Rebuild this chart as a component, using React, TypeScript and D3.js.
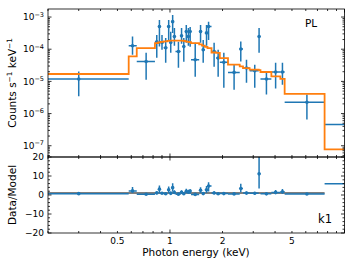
import * as d3 from "d3"

// spectral bins (keV)
const binEdges = [
  0.2, 0.58, 0.645, 0.82, 0.855, 0.885, 0.92, 0.965, 0.995, 1.022, 1.05, 1.075,
  1.15, 1.185, 1.22, 1.255, 1.29, 1.32, 1.47, 1.525, 1.585, 1.64, 1.73, 1.84,
  1.93, 2.15, 2.51, 2.62, 2.86, 3.225, 3.3, 3.81, 4.29, 4.54, 7.69, 14,
]
const energy = [
  0.3, 0.61, 0.73, 0.84, 0.87, 0.9, 0.945, 0.983, 1.01, 1.036, 1.06, 1.118,
  1.165, 1.2, 1.24, 1.275, 1.305, 1.395, 1.497, 1.55, 1.62, 1.664, 1.79, 1.888,
  2.035, 2.33, 2.545, 2.744, 3.06, 3.24, 3.57, 4.03, 4.41, 6.09, 10.5,
]
const rate = [
  1.19e-5, 1.28e-4, 4.17e-5, 1.7e-4, 5.05e-4, 1.61e-4, 1.11e-4, 5.05e-4, 1.61e-4, 7.2e-4,
  2.48e-4, 8.5e-5, 2.6e-4, 1.21e-4, 3.53e-4, 2.48e-4, 3.53e-4, 4.7e-5, 3.53e-4, 9.6e-5,
  3.22e-4, 5.05e-4, 8.5e-5, 5.3e-5, 3.9e-5, 1.9e-5, 1.01e-4, 2.6e-5, 2.15e-5, 2.48e-4,
  1.19e-5, 1.96e-5, 1.96e-5, 2.24e-6, 4.6e-7,
]
const rateHi = [
  2.04e-5, 2.48e-4, 7.7e-5, 2.79e-4, 8.13e-4, 2.79e-4, 2.25e-4, 8.13e-4, 3.46e-4, 1.16e-3,
  4.6e-4, 1.7e-4, 4.6e-4, 2.25e-4, 5.7e-4, 4.6e-4, 4.94e-4, 1.58e-4, 5.7e-4, 1.95e-4,
  5.7e-4, 7.2e-4, 1.58e-4, 9.6e-5, 7.7e-5, 3.3e-5, 1.73e-4, 4.7e-5, 3.3e-5, 4.6e-4,
  2.04e-5, 3.8e-5, 3.8e-5, 3.9e-6, 7e-7,
]
const rateLo = [
  3.44e-6, 6.7e-5, 1.13e-5, 5.4e-5, 1.21e-4, 9.6e-5, 3.8e-5, 1.95e-4, 7.7e-5, 3.22e-4,
  1.28e-4, 2.66e-5, 1.47e-4, 4.08e-5, 1.58e-4, 1.28e-4, 1.19e-4, 1.4e-5, 1.58e-4, 3.8e-5,
  1.28e-4, 1.95e-4, 2.86e-5, 1.4e-5, 6.4e-6, 5.5e-6, 4.17e-5, 9.1e-6, 6.4e-6, 7.7e-5,
  3.9e-6, 5.96e-6, 7.9e-6, 6.5e-7, 2.5e-7,
]
// power-law model, one value per bin
const model = [
  1.7e-5, 5.95e-5, 1.08e-4, 1.55e-4, 1.64e-4, 1.7e-4, 1.76e-4, 1.82e-4, 1.85e-4, 1.86e-4,
  1.86e-4, 1.86e-4, 1.85e-4, 1.82e-4, 1.76e-4, 1.7e-4, 1.66e-4, 1.55e-4, 1.42e-4, 1.3e-4,
  1.19e-4, 1.08e-4, 7.9e-5, 7.7e-5, 5.3e-5, 3.3e-5, 2.92e-5, 2.6e-5, 2.31e-5, 2.23e-5,
  1.96e-5, 1.43e-5, 1.19e-5, 4.08e-6, 7.7e-8,
]

const xTickLabels = [0.5, 1, 2, 5]
const yDecades = [-3, -4, -5, -6, -7]
const ratioTicks = [-20, -10, 0, 10, 20]

const W = 353
const H = 265
const left = 48
const right = 344.5
const top = 9
const mid = 157
const bottom = 233
const blue = "#1f77b4"
const orange = "#ff7f0e"
const font = "DejaVu Sans, sans-serif"

export default function App() {
  const x = d3.scaleLog().domain([0.2, 10]).range([left, right])
  const y = d3.scaleLog().domain([Math.pow(10, -7.35), Math.pow(10, -2.75)]).range([mid, top])
  const yr = d3.scaleLinear().domain([-20, 20]).range([bottom, mid])

  const n = energy.length
  const stepPts: [number, number][] = model.map((m, i) => [binEdges[i], m])
  stepPts.push([binEdges[n], model[n - 1]])
  const step = d3
    .line<[number, number]>()
    .x((d) => x(d[0]))
    .y((d) => y(d[1]))
    .curve(d3.curveStepAfter)

  const xTicks = x.ticks().filter((t) => t >= 0.2 && t <= 10)
  const yTicks = y.ticks()
  const yrMinor = d3.range(-20, 21, 2)

  const isMajorX = (t: number) => Math.abs(Math.log10(t) - Math.round(Math.log10(t))) < 1e-6

  const xTickMarks = (y0: number, y1: number) =>
    xTicks.map((t, i) => {
      const len = isMajorX(t) ? 3.5 : 2
      return (
        <g key={i}>
          <line x1={x(t)} x2={x(t)} y1={y0} y2={y0 - len} stroke="#000" strokeWidth={0.8} />
          <line x1={x(t)} x2={x(t)} y1={y1} y2={y1 + len} stroke="#000" strokeWidth={0.8} />
        </g>
      )
    })

  return (
    <svg width={W} height={H} style={{ position: "absolute", left: 0, top: 0, background: "#fff" }} fontFamily={font}>
      <defs>
        <clipPath id="upper">
          <rect x={left} y={top} width={right - left} height={mid - top} />
        </clipPath>
        <clipPath id="lower">
          <rect x={left} y={mid} width={right - left} height={bottom - mid} />
        </clipPath>
      </defs>

      {/* upper panel: spectrum */}
      <g clipPath="url(#upper)">
        {energy.map((e, i) => (
          <g key={i} stroke={blue} strokeWidth={1.5}>
            <line x1={x(binEdges[i])} x2={x(binEdges[i + 1])} y1={y(rate[i])} y2={y(rate[i])} />
            <line x1={x(e)} x2={x(e)} y1={y(rateHi[i])} y2={y(rateLo[i])} />
            <circle cx={x(e)} cy={y(rate[i])} r={1.8} fill={blue} stroke="none" />
          </g>
        ))}
        <path d={step(stepPts) ?? ""} fill="none" stroke={orange} strokeWidth={1.8} />
      </g>

      {/* lower panel: ratio */}
      <g clipPath="url(#lower)">
        <line x1={x(binEdges[0])} x2={x(binEdges[n - 1])} y1={yr(1)} y2={yr(1)} stroke="#7f7f7f" strokeWidth={2} />
        {energy.map((e, i) => {
          const r = rate[i] / model[i]
          const rh = rateHi[i] / model[i]
          const rl = rateLo[i] / model[i]
          return (
            <g key={i} stroke={blue} strokeWidth={1.5}>
              <line x1={x(binEdges[i])} x2={x(binEdges[i + 1])} y1={yr(r)} y2={yr(r)} />
              <line x1={x(e)} x2={x(e)} y1={yr(rh)} y2={yr(rl)} />
              <circle cx={x(e)} cy={yr(r)} r={1.8} fill={blue} stroke="none" />
            </g>
          )
        })}
      </g>

      {/* ticks */}
      {xTickMarks(mid, top)}
      {xTickMarks(bottom, mid)}
      {yTicks.map((t, i) => {
        const major = Math.abs(Math.log10(t) - Math.round(Math.log10(t))) < 1e-6
        const len = major ? 3.5 : 2
        return (
          <g key={i} stroke="#000" strokeWidth={0.8}>
            <line x1={left} x2={left + len} y1={y(t)} y2={y(t)} />
            <line x1={right} x2={right - len} y1={y(t)} y2={y(t)} />
          </g>
        )
      })}
      {yrMinor.map((t, i) => {
        const len = t % 10 === 0 ? 3.5 : 2
        return (
          <g key={i} stroke="#000" strokeWidth={0.8}>
            <line x1={left} x2={left + len} y1={yr(t)} y2={yr(t)} />
            <line x1={right} x2={right - len} y1={yr(t)} y2={yr(t)} />
          </g>
        )
      })}

      {/* frames */}
      <rect x={left} y={top} width={right - left} height={mid - top} fill="none" stroke="#000" strokeWidth={0.8} />
      <rect x={left} y={mid} width={right - left} height={bottom - mid} fill="none" stroke="#000" strokeWidth={0.8} />

      {/* tick labels */}
      {yDecades.map((p) => (
        <text key={p} x={44} y={y(Math.pow(10, p)) + 3.2} textAnchor="end" fontSize={9}>
          10<tspan dy={-3.5} fontSize={6.5}>{"\u2212" + Math.abs(p)}</tspan>
        </text>
      ))}
      {ratioTicks.map((t) => (
        <text key={t} x={44} y={yr(t) + 3.2} textAnchor="end" fontSize={9}>
          {t < 0 ? "\u2212" + Math.abs(t) : String(t)}
        </text>
      ))}
      {xTickLabels.map((t) => (
        <text key={t} x={x(t)} y={244} textAnchor="middle" fontSize={9}>
          {String(t)}
        </text>
      ))}

      {/* axis labels */}
      <text x={196} y={256} textAnchor="middle" fontSize={10.5}>
        Photon energy (keV)
      </text>
      <text transform={`translate(16,${(top + mid) / 2}) rotate(-90)`} textAnchor="middle" fontSize={10.5}>
        Counts s<tspan dy={-4} fontSize={7.3}>{"\u22121"}</tspan>
        <tspan dy={4}> keV</tspan>
        <tspan dy={-4} fontSize={7.3}>{"\u22121"}</tspan>
      </text>
      <text transform={`translate(16,${(mid + bottom) / 2}) rotate(-90)`} textAnchor="middle" fontSize={10.5}>
        Data/Model
      </text>

      <text x={305} y={27} fontSize={10.5}>PL</text>
      <text x={318} y={223} fontSize={11.5}>k1</text>
    </svg>
  )
}
